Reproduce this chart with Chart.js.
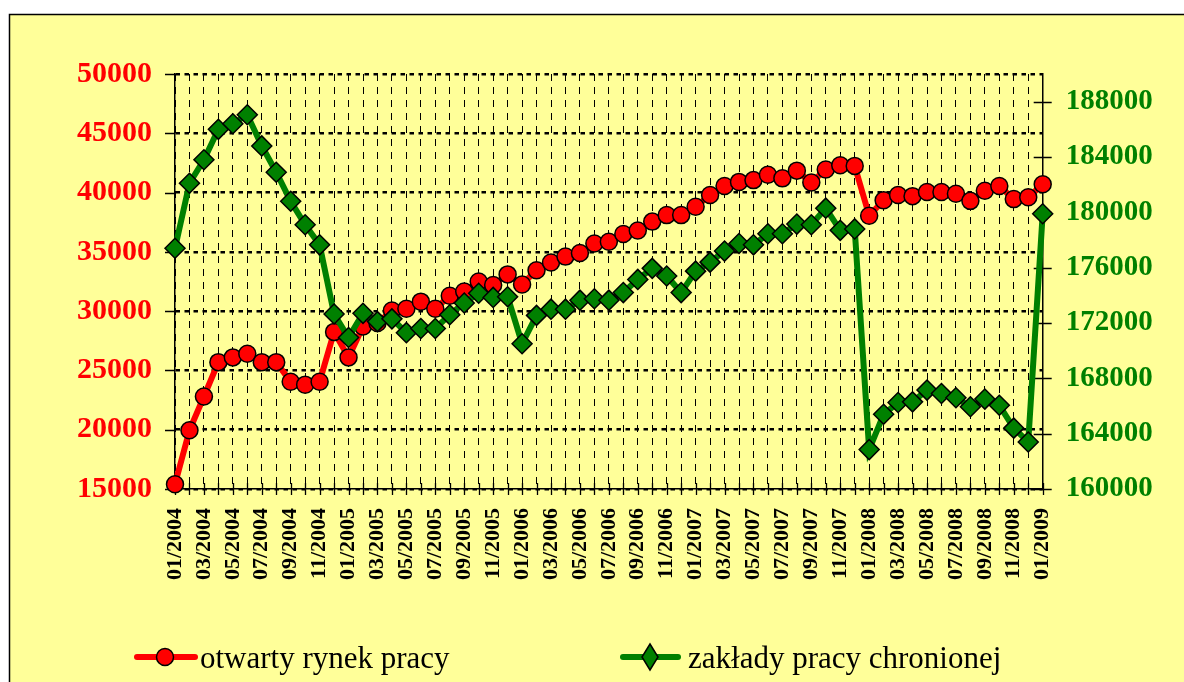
<!DOCTYPE html>
<html>
<head>
<meta charset="utf-8">
<style>
  html, body { margin: 0; padding: 0; background: #ffffff; }
  #wrap { width: 1184px; height: 682px; }
</style>
<script src="https://cdn.jsdelivr.net/npm/chart.js@4/dist/chart.umd.min.js"></script>
</head>
<body>
<div id="wrap"><canvas id="c" width="1184" height="682"></canvas></div>
<script>
const months = [
  '01/2004','02/2004','03/2004','04/2004','05/2004','06/2004','07/2004','08/2004','09/2004','10/2004','11/2004','12/2004',
  '01/2005','02/2005','03/2005','04/2005','05/2005','06/2005','07/2005','08/2005','09/2005','10/2005','11/2005','12/2005',
  '01/2006','02/2006','03/2006','04/2006','05/2006','06/2006','07/2006','08/2006','09/2006','10/2006','11/2006','12/2006',
  '01/2007','02/2007','03/2007','04/2007','05/2007','06/2007','07/2007','08/2007','09/2007','10/2007','11/2007','12/2007',
  '01/2008','02/2008','03/2008','04/2008','05/2008','06/2008','07/2008','08/2008','09/2008','10/2008','11/2008','12/2008',
  '01/2009'
];

const openMarket = [
  15400, 19950, 22800, 25700, 26100, 26400, 25700, 25700, 24050, 23800, 24050, 28250,
  26100, 28700, 29000, 30050, 30200, 30800, 30200, 31300, 31650, 32500, 32200, 33100,
  32250, 33450, 34100, 34600, 34900, 35700, 35850, 36500, 36800, 37550, 38100, 38100,
  38800, 39800, 40550, 40900, 41050, 41500, 41200, 41850, 40850, 41950, 42300, 42250,
  38050, 39350, 39800, 39700, 40050, 40050, 39900, 39300, 40150, 40550, 39450, 39600,
  40700
];

const shelteredWork = [
  177400, 182100, 183800, 186000, 186400, 187050, 184800, 182900, 180800, 179100, 177650, 172650,
  170950, 172700, 172100, 172300, 171300, 171600, 171600, 172600, 173450, 174150, 173850, 173900,
  170500, 172550, 173000, 173000, 173650, 173750, 173650, 174200, 175150, 175950, 175400, 174200,
  175750, 176400, 177200, 177750, 177650, 178450, 178450, 179150, 179100, 180300, 178700, 178800,
  162850, 165400, 166250, 166300, 167150, 166900, 166600, 165950, 166500, 166050, 164400, 163400,
  179900
];

const seriesNames = ['otwarty rynek pracy', 'zakłady pracy chronionej'];
const leftTicks = [15000, 20000, 25000, 30000, 35000, 40000, 45000, 50000];
const rightTicks = [160000, 164000, 168000, 172000, 176000, 180000, 184000, 188000];

const RED = '#ff0000';
const GREEN = '#008000';
const BG = '#ffff99';
const SERIF = '"Liberation Serif", "Times New Roman", serif';

const framePlugin = {
  id: 'frame',
  beforeDraw(chart) {
    const ctx = chart.ctx;
    ctx.save();
    ctx.fillStyle = '#ffffff';
    ctx.fillRect(0, 0, chart.width, chart.height);
    ctx.fillStyle = BG;
    ctx.fillRect(10, 14, chart.width, chart.height);
    ctx.strokeStyle = '#000';
    ctx.lineWidth = 1.5;
    ctx.beginPath();
    ctx.moveTo(9.5, chart.height + 5);
    ctx.lineTo(9.5, 14.5);
    ctx.lineTo(chart.width + 5, 14.5);
    ctx.stroke();
    ctx.restore();
  }
};

const tickMarksPlugin = {
  id: 'tickMarks',
  beforeDatasetsDraw(chart) {
    const ctx = chart.ctx;
    const yl = chart.scales.yL, yr = chart.scales.yR, x = chart.scales.x;
    const area = chart.chartArea;
    ctx.save();
    ctx.strokeStyle = '#000';
    ctx.lineWidth = 1.3;
    ctx.setLineDash([]);
    ctx.beginPath();
    yl.ticks.forEach(t => {
      const py = Math.round(yl.getPixelForValue(t.value)) + 0.5;
      ctx.moveTo(area.left - 10, py);
      ctx.lineTo(area.left, py);
    });
    yr.ticks.forEach(t => {
      const py = Math.round(yr.getPixelForValue(t.value)) + 0.5;
      ctx.moveTo(area.right - 9, py);
      ctx.lineTo(area.right + 9, py);
    });
    for (let i = 0; i < months.length; i++) {
      const px = Math.round(x.getPixelForValue(i)) + 0.5;
      ctx.moveTo(px, area.bottom - 6);
      ctx.lineTo(px, area.bottom + 6);
    }
    ctx.stroke();
    ctx.restore();
  }
};

const legendPlugin = {
  id: 'customLegend',
  afterDraw(chart) {
    const ctx = chart.ctx;
    const items = [
      { x1: 137, x2: 195, mx: 165, tx: 200, ds: chart.data.datasets[0] },
      { x1: 623, x2: 678, mx: 650, tx: 688, ds: chart.data.datasets[1] }
    ];
    const y = 657;
    ctx.save();
    items.forEach(it => {
      ctx.strokeStyle = it.ds.borderColor;
      ctx.lineWidth = 6;
      ctx.lineCap = 'round';
      ctx.beginPath();
      ctx.moveTo(it.x1, y);
      ctx.lineTo(it.x2, y);
      ctx.stroke();
      ctx.fillStyle = it.ds.pointBackgroundColor;
      ctx.strokeStyle = '#000';
      ctx.lineWidth = 1.5;
      ctx.beginPath();
      if (it.ds.pointStyle === 'circle') {
        ctx.arc(it.mx, y, 8.5, 0, Math.PI * 2);
      } else {
        ctx.moveTo(it.mx, y - 13);
        ctx.lineTo(it.mx + 8, y);
        ctx.lineTo(it.mx, y + 13);
        ctx.lineTo(it.mx - 8, y);
        ctx.closePath();
      }
      ctx.fill();
      ctx.stroke();
      ctx.fillStyle = '#000';
      ctx.font = '31px ' + SERIF;
      ctx.textBaseline = 'alphabetic';
      ctx.textAlign = 'left';
      ctx.fillText(it.ds.label, it.tx, 668);
    });
    ctx.restore();
  }
};

new Chart(document.getElementById('c'), {
  type: 'line',
  data: {
    labels: months,
    datasets: [
      {
        label: seriesNames[0],
        data: openMarket,
        yAxisID: 'yL',
        borderColor: RED,
        backgroundColor: RED,
        borderWidth: 6,
        pointStyle: 'circle',
        pointRadius: 8.5,
        pointHoverRadius: 8.5,
        pointBackgroundColor: RED,
        pointBorderColor: '#000',
        pointBorderWidth: 1.5,
        tension: 0,
        clip: false,
        order: 1
      },
      {
        label: seriesNames[1],
        data: shelteredWork,
        yAxisID: 'yR',
        borderColor: GREEN,
        backgroundColor: GREEN,
        borderWidth: 6,
        pointStyle: 'rectRot',
        pointRadius: 10,
        pointHoverRadius: 10,
        pointBackgroundColor: GREEN,
        pointBorderColor: '#000',
        pointBorderWidth: 1.5,
        tension: 0,
        clip: false,
        order: 0
      }
    ]
  },
  options: {
    responsive: false,
    animation: false,
    devicePixelRatio: 1,
    layout: { padding: { top: 74, left: 0, right: 0, bottom: 0 } },
    plugins: {
      legend: { display: false },
      tooltip: { enabled: false },
      title: { display: false }
    },
    scales: {
      x: {
        type: 'category',
        offset: false,
        grid: { display: true, color: '#000', lineWidth: 1, drawTicks: false },
        border: { display: true, color: '#000', width: 1.5, dash: [7, 6] },
        ticks: {
          autoSkip: false,
          minRotation: 90,
          maxRotation: 90,
          padding: 19,
          color: '#000',
          font: { family: SERIF, size: 22, weight: 'bold' },
          callback: function(val, idx) { return idx % 2 === 0 ? months[idx] : ''; }
        },
        afterFit(scale) { scale.height = 193; }
      },
      yL: {
        type: 'linear',
        position: 'left',
        min: leftTicks[0],
        max: leftTicks[leftTicks.length - 1],
        grid: { display: true, color: '#000', lineWidth: 2.5, drawTicks: false },
        border: { display: true, color: '#000', width: 1.5, dash: [4.5, 4.5] },
        ticks: {
          padding: 23,
          color: RED,
          font: { family: SERIF, size: 30, weight: 'bold' },
          callback: v => String(v)
        },
        afterBuildTicks(scale) { scale.ticks = leftTicks.map(v => ({ value: v })); },
        afterFit(scale) { scale.width = 175; }
      },
      yR: {
        type: 'linear',
        position: 'right',
        min: 160000,
        max: 190000,
        grid: { display: false, drawOnChartArea: false, drawTicks: false },
        border: { display: true, color: '#000', width: 1.5 },
        ticks: {
          padding: 23,
          color: GREEN,
          font: { family: SERIF, size: 29, weight: 'bold' },
          callback: v => String(v)
        },
        afterBuildTicks(scale) { scale.ticks = rightTicks.map(v => ({ value: v })); },
        afterFit(scale) { scale.width = 141.3; }
      }
    }
  },
  plugins: [framePlugin, tickMarksPlugin, legendPlugin]
});
</script>
</body>
</html>
